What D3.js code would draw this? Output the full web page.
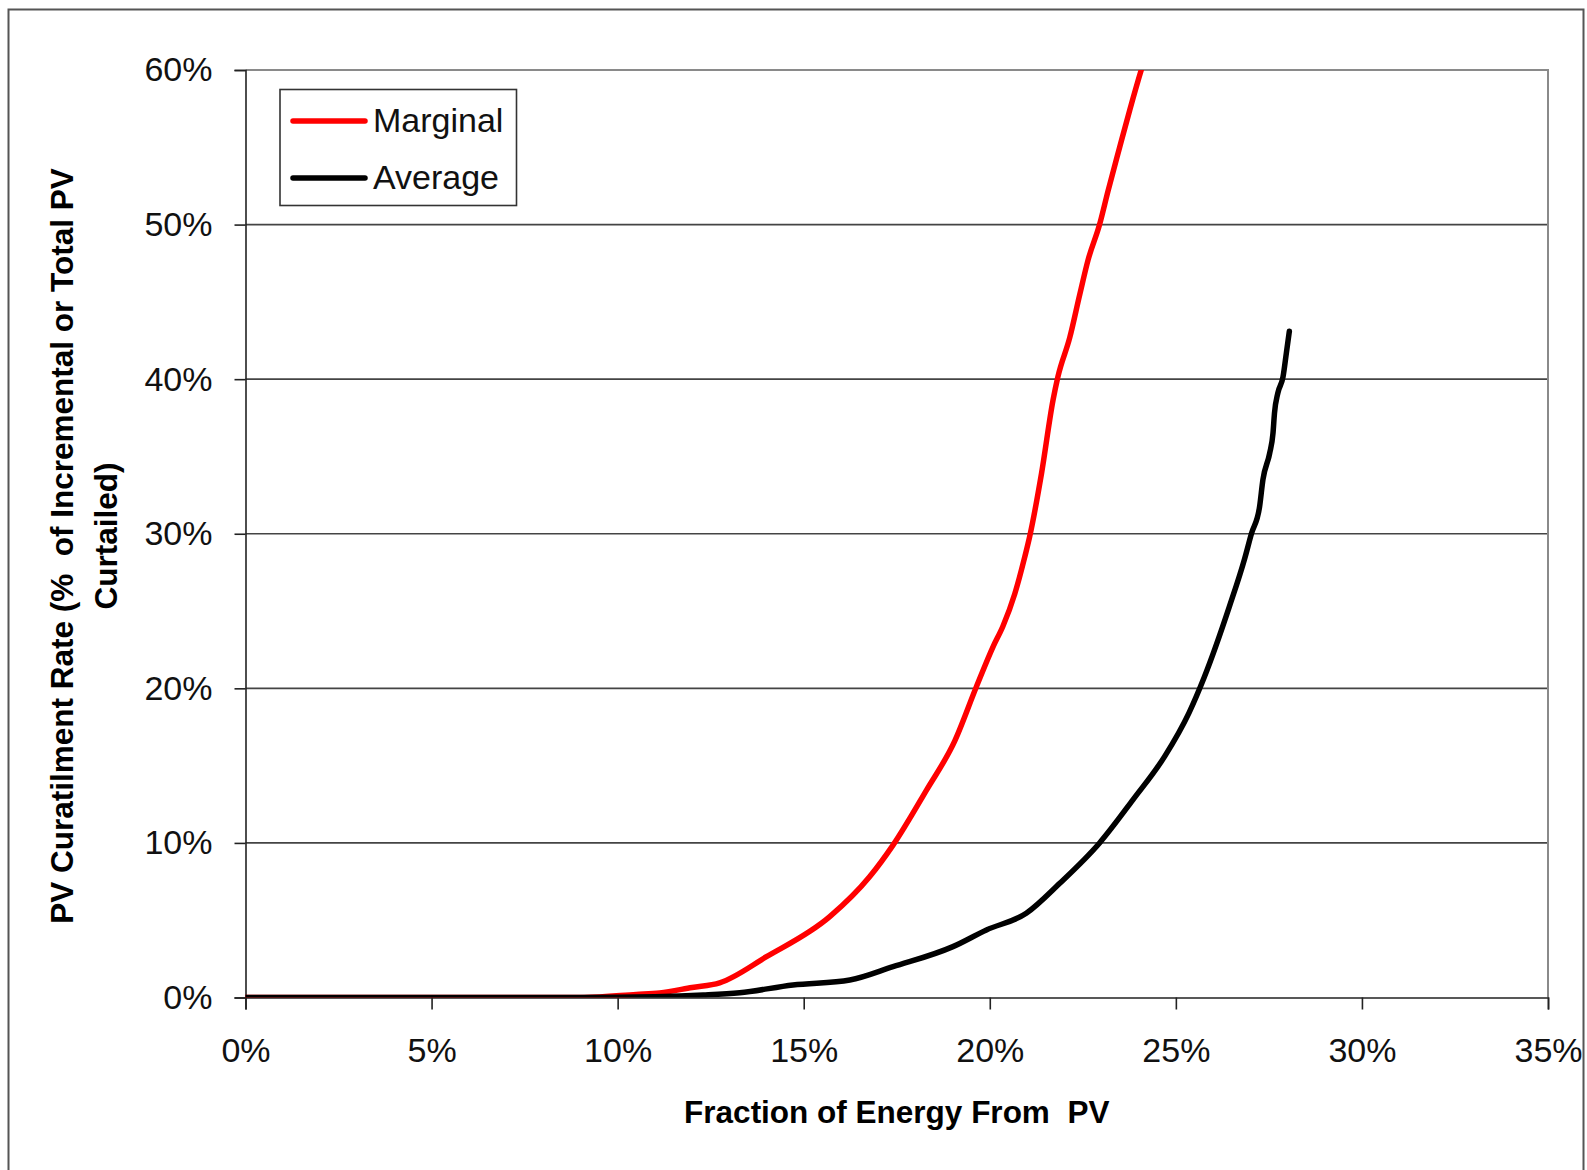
<!DOCTYPE html>
<html>
<head>
<meta charset="utf-8">
<script src="https://cdn.jsdelivr.net/npm/d3@7"></script>
<style>
  html, body { margin: 0; padding: 0; background: #fff; }
  svg { display: block; }
  text { font-family: "Liberation Sans", Arial, sans-serif; }
</style>
</head>
<body>
<svg id="chart" width="1587" height="1170"></svg>
<script>
// ---- data ----
const xTickValues = [0, 5, 10, 15, 20, 25, 30, 35];
const yTickValues = [0, 10, 20, 30, 40, 50, 60];
const seriesNames = ["Marginal", "Average"];
const seriesColors = ["#ff0000", "#000000"];

const marginalX = [0, 9.1, 10.5, 11.13, 12.0, 12.74, 14.0, 15.7, 16.77, 17.4, 18.3, 19.06, 19.64, 20.09, 20.35, 20.67, 20.94, 21.07, 21.39, 21.7, 21.83, 22.15, 22.42, 22.64, 22.95, 23.18, 23.49, 23.76, 24.07, 24.2];
const marginalY = [0, 0, 0.2, 0.3, 0.65, 0.95, 2.64, 5.23, 7.81, 9.86, 13.42, 16.6, 20.1, 22.7, 24.0, 26.1, 28.5, 29.8, 33.9, 38.65, 40.15, 42.7, 45.5, 47.7, 50.0, 52.2, 55.0, 57.4, 60.0, 61.0];

const averageX = [0, 9.0, 11.0, 12.3, 13.28, 14.71, 16.24, 17.4, 19.01, 19.91, 20.98, 21.88, 22.95, 23.85, 24.7, 25.35, 25.76, 26.44, 26.85, 27.03, 27.25, 27.34, 27.52, 27.61, 27.65, 27.74, 27.88, 27.97, 28.05];
const averageY = [0, 0, 0.05, 0.16, 0.31, 0.81, 1.13, 1.99, 3.29, 4.37, 5.45, 7.39, 10.0, 12.8, 15.6, 18.4, 20.7, 25.3, 28.4, 30.0, 31.75, 33.5, 35.2, 36.5, 37.8, 39.1, 40.15, 41.7, 43.1];

const xTitle = "Fraction of Energy From  PV";
const yTitleLines = ["PV Curatilment Rate (%  of Incremental or Total PV", "Curtailed)"];

// ---- drawing ----
const svg = d3.select("#chart");
const L = 245.5, R = 1548, T = 70, B = 997.5;
const x = d3.scaleLinear().domain([0, 35]).range([L, R]);
const y = d3.scaleLinear().domain([0, 60]).range([B, T]);

// outer frame
svg.append("rect").attr("x", 8.5).attr("y", 9.5).attr("width", 1575).attr("height", 1200)
  .attr("fill", "#fff").attr("stroke", "#555").attr("stroke-width", 2);

// clip
svg.append("defs").append("clipPath").attr("id", "plotclip")
  .append("rect").attr("x", L).attr("y", T).attr("width", R - L).attr("height", B - T);

// gridlines
svg.append("g").selectAll("line")
  .data(yTickValues.filter(d => d > 0 && d < 60))
  .join("line")
  .attr("x1", L).attr("x2", R)
  .attr("y1", d => y(d)).attr("y2", d => y(d))
  .attr("stroke", "#444").attr("stroke-width", 1.6);

// plot border top & right (grey)
svg.append("path")
  .attr("d", `M${L},${y(60)}H${R}V${B}`)
  .attr("fill", "none").attr("stroke", "#8a8a8a").attr("stroke-width", 2);

// axes
const yAxis = d3.axisLeft(y).tickValues(yTickValues).tickSize(11).tickPadding(22)
  .tickFormat(d => d + "%");
const gy = svg.append("g").attr("transform", `translate(${L},0)`).call(yAxis);
gy.select(".domain").attr("stroke", "#222").attr("stroke-width", 1.6);
gy.selectAll(".tick line").attr("stroke", "#222").attr("stroke-width", 1.6);
gy.selectAll(".tick text").attr("font-size", 34).attr("fill", "#111")
  .attr("font-family", "'Liberation Sans', Arial, sans-serif");

const xAxis = d3.axisBottom(x).tickValues(xTickValues).tickSize(12).tickPadding(28)
  .tickFormat(d => d + "%");
const gx = svg.append("g").attr("transform", `translate(0,${B})`).call(xAxis);
gx.select(".domain").attr("stroke", "#222").attr("stroke-width", 1.6);
gx.selectAll(".tick line").attr("stroke", "#222").attr("stroke-width", 1.6);
gx.selectAll(".tick text").attr("font-size", 34).attr("fill", "#111")
  .attr("font-family", "'Liberation Sans', Arial, sans-serif");

// lines
const line = d3.line().x(d => x(d[0])).y(d => y(d[1])).curve(d3.curveMonotoneX);
const series = [
  d3.zip(marginalX, marginalY),
  d3.zip(averageX, averageY)
];
const gl = svg.append("g").attr("clip-path", "url(#plotclip)");
series.forEach((s, i) => {
  gl.append("path").datum(s)
    .attr("d", line)
    .attr("fill", "none")
    .attr("stroke", seriesColors[i])
    .attr("stroke-width", 5.5)
    .attr("stroke-linejoin", "round")
    .attr("stroke-linecap", "round");
});

// legend
const lg = svg.append("g");
lg.append("rect").attr("x", 280).attr("y", 89.5).attr("width", 236.5).attr("height", 116)
  .attr("fill", "#fff").attr("stroke", "#333").attr("stroke-width", 1.6);
seriesNames.forEach((n, i) => {
  const yy = 121 + i * 57;
  lg.append("line").attr("x1", 293).attr("x2", 365).attr("y1", yy).attr("y2", yy)
    .attr("stroke", seriesColors[i]).attr("stroke-width", 5.5).attr("stroke-linecap", "round");
  lg.append("text").attr("x", 373).attr("y", yy + 11).attr("font-size", 34)
    .attr("fill", "#111").text(n);
});

// axis titles
svg.append("text").attr("x", (L + R) / 2).attr("y", 1123)
  .attr("text-anchor", "middle").attr("font-size", 31.5).attr("font-weight", "bold")
  .attr("fill", "#000").style("white-space", "pre").text(xTitle);

const yCenters = [546, 536];
const yBase = [73, 117];
yTitleLines.forEach((t, i) => {
  svg.append("text")
    .attr("transform", `translate(${yBase[i]},${yCenters[i]}) rotate(-90)`)
    .attr("text-anchor", "middle").attr("font-size", 31.5).attr("font-weight", "bold")
    .attr("fill", "#000").style("white-space", "pre").text(t);
});
</script>
</body>
</html>
